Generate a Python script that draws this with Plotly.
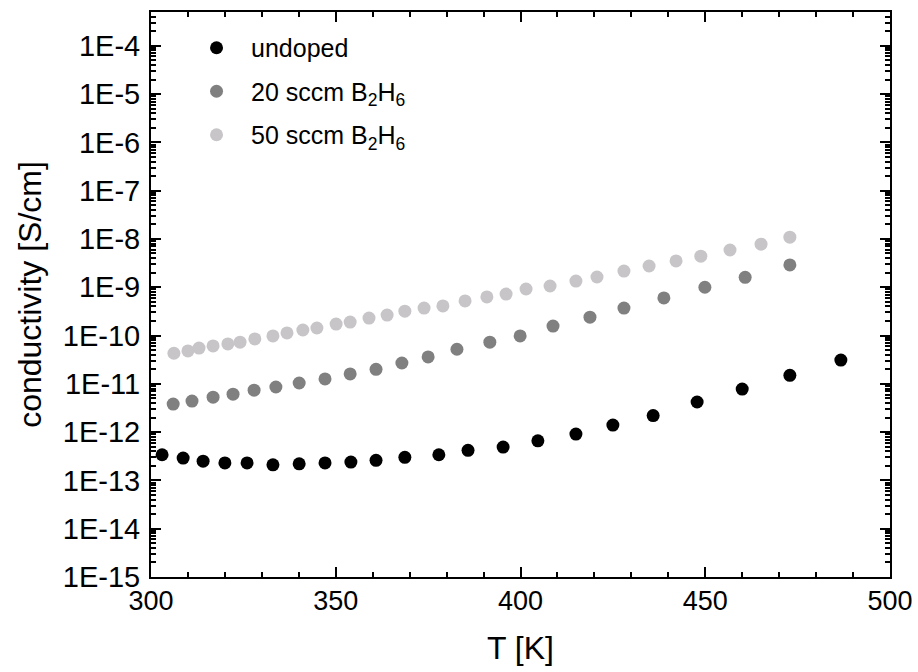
import plotly.graph_objects as go
import numpy as np

# ---- data ----
T_undoped = [303.0, 308.7, 314.1, 320.0, 326.0, 333.0, 340.1, 347.1, 354.1, 360.9,
             368.7, 377.9, 385.8, 395.3, 404.7, 415.0, 425.0, 435.9, 447.8, 460.0,
             472.9, 486.7]
s_undoped = [3.4e-13, 2.9e-13, 2.5e-13, 2.3e-13, 2.3e-13, 2.1e-13, 2.2e-13, 2.3e-13,
             2.4e-13, 2.6e-13, 3.0e-13, 3.4e-13, 4.2e-13, 4.9e-13, 6.6e-13, 9.1e-13,
             1.4e-12, 2.2e-12, 4.2e-12, 7.8e-12, 1.5e-11, 3.1e-11]

T_20 = [306.0, 311.1, 316.8, 322.2, 327.9, 333.8, 340.1, 347.1, 353.9, 360.9, 367.9,
        375.0, 382.8, 391.7, 399.9, 408.8, 418.8, 428.0, 438.8, 449.9, 460.8, 472.9]
s_20 = [3.8e-12, 4.4e-12, 5.3e-12, 6.1e-12, 7.4e-12, 8.6e-12, 1.04e-11, 1.26e-11,
        1.6e-11, 2.0e-11, 2.7e-11, 3.6e-11, 5.2e-11, 7.3e-11, 9.8e-11, 1.57e-10,
        2.4e-10, 3.7e-10, 6.0e-10, 1.0e-9, 1.6e-9, 2.9e-9]

T_50 = [306.2, 310.0, 313.0, 316.8, 320.8, 324.1, 328.1, 333.0, 336.8, 341.1, 344.9,
        350.1, 353.9, 359.0, 363.9, 368.7, 373.9, 379.0, 385.0, 390.9, 396.1, 401.5,
        408.0, 415.0, 420.7, 428.0, 434.8, 442.1, 448.8, 456.7, 465.1, 472.9]
s_50 = [4.3e-11, 4.8e-11, 5.5e-11, 6.1e-11, 6.7e-11, 7.3e-11, 8.5e-11, 9.8e-11,
        1.13e-10, 1.30e-10, 1.43e-10, 1.73e-10, 1.9e-10, 2.3e-10, 2.65e-10, 3.2e-10,
        3.7e-10, 4.1e-10, 5.2e-10, 6.3e-10, 7.2e-10, 9.2e-10, 1.06e-9, 1.34e-9,
        1.63e-9, 2.16e-9, 2.75e-9, 3.5e-9, 4.4e-9, 5.9e-9, 7.8e-9, 1.09e-8]

names = ["undoped", "20 sccm B<sub>2</sub>H<sub>6</sub>", "50 sccm B<sub>2</sub>H<sub>6</sub>"]
colors = ["#000000", "#808080", "#c8c5c8"]

y_exps = list(range(-15, -3))
y_tickvals = [10.0 ** e for e in y_exps]
y_ticktext = ["1E%d" % e for e in y_exps]
y_minor = [m * 10.0 ** e for e in range(-15, -3) for m in range(2, 10) if m * 10.0 ** e < 5e-4]

x_tickvals = [300, 350, 400, 450, 500]
x_minor = list(range(300, 501, 10))

FONT = "Liberation Sans, Arial, sans-serif"

fig = go.Figure()
for i, (T, s) in enumerate([(T_undoped, s_undoped), (T_20, s_20), (T_50, s_50)]):
    fig.add_trace(go.Scatter(
        x=T, y=s, mode="markers", name=names[i], legendgroup=str(i),
        marker=dict(size=13, color=colors[i], symbol="circle", line=dict(width=0)),
    ))

axis_common = dict(
    showline=True, linecolor="black", linewidth=2, mirror="allticks",
    ticks="inside", ticklen=10, tickwidth=2, tickcolor="black",
    showgrid=False, zeroline=False, automargin=False,
)

fig.update_layout(
    width=918, height=672,
    margin=dict(l=151, r=28, t=12, b=95),
    paper_bgcolor="white", plot_bgcolor="white",
    showlegend=True,
    legend=dict(x=0.042, y=0.977, xanchor="left", yanchor="top",
                font=dict(family=FONT, size=25, color="black"),
                bgcolor="rgba(0,0,0,0)", tracegroupgap=8, itemwidth=59),
    xaxis=dict(range=[300, 500], tickmode="array", tickvals=x_tickvals,
               minor=dict(tickmode="array", tickvals=x_minor, ticks="inside",
                          ticklen=5, tickwidth=2, tickcolor="black"),
               title=dict(text="T [K]", font=dict(family=FONT, size=32, color="black"),
                          standoff=21),
               ticklabelstandoff=-1,
               tickfont=dict(family=FONT, size=27, color="black"),
               **axis_common),
    yaxis=dict(type="log", range=[-15, np.log10(5e-4)], tickmode="array",
               tickvals=y_tickvals, ticktext=y_ticktext,
               minor=dict(tickmode="array", tickvals=y_minor, ticks="inside",
                          ticklen=5, tickwidth=2, tickcolor="black"),
               title=dict(text="conductivity [S/cm]",
                          font=dict(family=FONT, size=32, color="black"), standoff=12),
               ticklabelstandoff=3,
               tickfont=dict(family=FONT, size=29, color="black"),
               **axis_common),
)

fig.write_html("out.html", config={"displayModeBar": False},
               post_script="document.body.style.margin='0';")
